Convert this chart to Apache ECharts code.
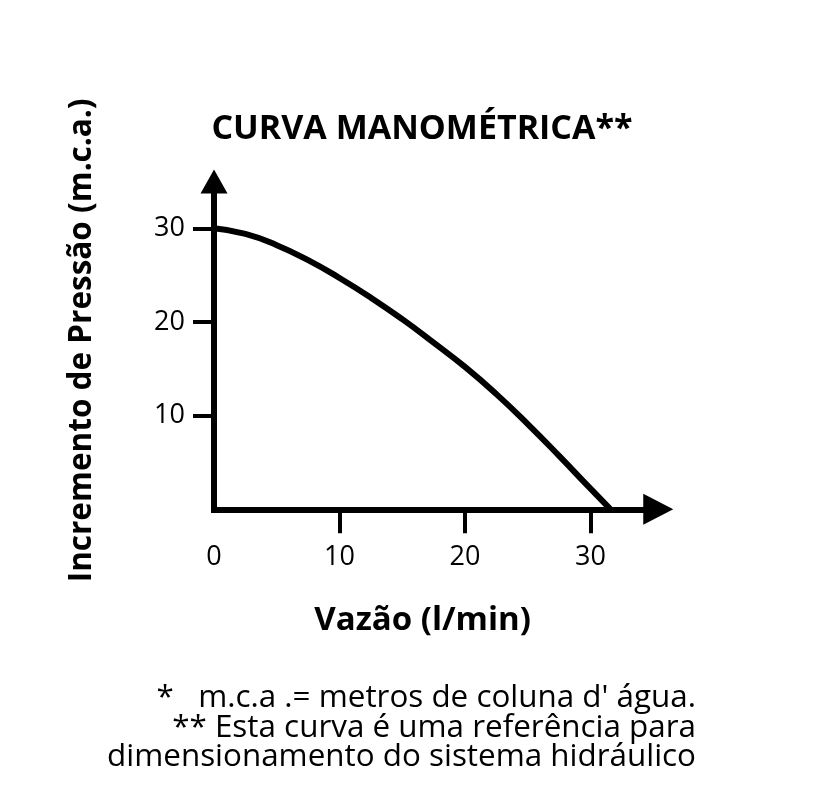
<!DOCTYPE html>
<html lang="pt">
<head>
  <meta charset="utf-8">
  <title>Curva manométrica</title>
  <style>
    html, body { margin: 0; padding: 0; background: #fff; }
    #chart1 { width: 833px; height: 801px; }
  </style>
</head>
<body>

<script src="https://cdn.jsdelivr.net/npm/echarts@6/dist/echarts.min.js"></script>

<div id="chart1"></div>

<script>
  // vazão (l/min) e incremento de pressão (m.c.a.)
  var vazao   = [0, 2.5, 5, 7.5, 10, 12.5, 15, 17.5, 20, 22.5, 25, 27.5, 30, 31.6];
  var pressao = [30, 29.4, 28.2, 26.6, 24.7, 22.6, 20.3, 17.8, 15.2, 12.3, 9.1, 5.7, 2.2, 0];

  var xTicks = [0, 10, 20, 30];
  var yTicks = [10, 20, 30];

  var notas = [
    '*   m.c.a .= metros de coluna d\' água.',
    '** Esta curva é uma referência para',
    'dimensionamento do sistema hidráulico'
  ];

  var fonte = '"Open Sans", "Noto Sans", sans-serif';

  var pontos = [];
  for (var i = 0; i < vazao.length; i++) {
    pontos.push([vazao[i], pressao[i]]);
  }

  var chart1 = echarts.init(document.getElementById('chart1'));

  var option = {
    backgroundColor: '#fff',
    animation: false,
    title: {
      text: 'CURVA MANOMÉTRICA**',
      left: 417,
      textAlign: 'center',
      top: 107,
      textStyle: { fontFamily: fonte, fontWeight: 'bold', fontSize: 34, color: '#000' }
    },
    grid: { left: 214, top: 181.5, right: 179.75, bottom: 291.7, containLabel: false },
    xAxis: {
      type: 'value',
      min: 0,
      max: 35,
      interval: 10,
      name: 'Vazão (l/min)',
      nameLocation: 'middle',
      nameGap: 95,
      nameTextStyle: { fontFamily: fonte, fontWeight: 'bold', fontSize: 33, color: '#000', padding: [0, 22, 0, 0] },
      splitLine: { show: false },
      axisLine: {
        lineStyle: { color: '#000', width: 6, cap: 'square' },
        symbol: ['none', 'triangle'],
        symbolSize: [31, 30],
        symbolOffset: [0, 5]
      },
      axisTick: { customValues: [10, 20, 30], length: 24, lineStyle: { color: '#000', width: 4 } },
      axisLabel: {
        customValues: xTicks,
        margin: 35,
        fontFamily: fonte, fontSize: 27, color: '#000'
      }
    },
    yAxis: {
      type: 'value',
      min: 0,
      max: 35,
      interval: 10,
      name: 'Incremento de Pressão (m.c.a.)',
      nameLocation: 'middle',
      nameGap: 116,
      nameTextStyle: { fontFamily: fonte, fontWeight: 'bold', fontSize: 31.5, color: '#000', padding: [0, 0, 0, 10] },
      splitLine: { show: false },
      axisLine: {
        lineStyle: { color: '#000', width: 6, cap: 'square' },
        symbol: ['none', 'triangle'],
        symbolSize: [27, 24],
        symbolOffset: [0, 0]
      },
      axisTick: { customValues: yTicks, length: 21, lineStyle: { color: '#000', width: 4 } },
      axisLabel: {
        customValues: yTicks,
        margin: 29,
        fontFamily: fonte, fontSize: 27, color: '#000'
      }
    },
    graphic: notas.map(function (t, k) {
      return {
        type: 'text',
        right: 137,
        top: 683 + k * 29.5,
        style: { text: t, fontFamily: fonte, fontSize: 31.4, fill: '#000', textAlign: 'right' }
      };
    }),
    series: [
      {
        type: 'line',
        data: pontos,
        smooth: true,
        showSymbol: false,
        lineStyle: { color: '#000', width: 6 }
      }
    ]
  };
  chart1.setOption(option);
</script>

</body>
</html>
